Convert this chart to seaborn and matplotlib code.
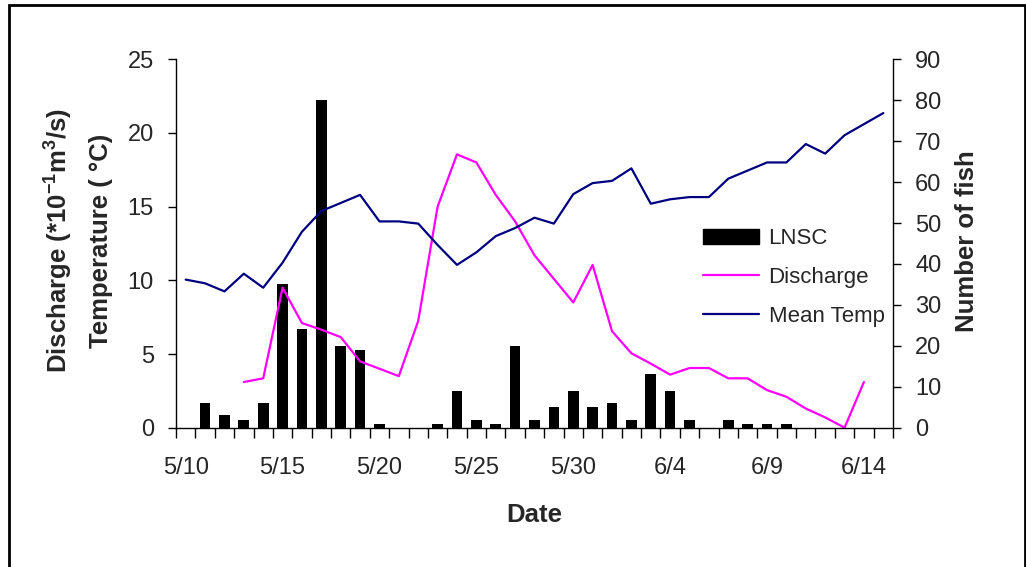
import numpy as np
import pandas as pd
import matplotlib
matplotlib.use("Agg")
import matplotlib.pyplot as plt
import seaborn as sns
from matplotlib.patches import Patch, Rectangle
from matplotlib.lines import Line2D
from matplotlib.ticker import FixedLocator, NullFormatter

# Daily dates, 5/10 through 6/15
dates = ["5/10", "5/11", "5/12", "5/13", "5/14", "5/15", "5/16", "5/17", "5/18",
         "5/19", "5/20", "5/21", "5/22", "5/23", "5/24", "5/25", "5/26", "5/27",
         "5/28", "5/29", "5/30", "5/31", "6/1", "6/2", "6/3", "6/4", "6/5", "6/6",
         "6/7", "6/8", "6/9", "6/10", "6/11", "6/12", "6/13", "6/14", "6/15"]

# LNSC catch per day (number of fish)
lnsc = [0, 6, 3, 2, 6, 35, 24, 80, 20, 19, 1, 0, 0, 1, 9, 2, 1, 20,
        2, 5, 9, 5, 6, 2, 13, 9, 2, 0, 2, 1, 1, 1, 0, 0, 0, 0, 0]

# Discharge (*10^-1 m3/s); no readings on the first three and the last day
discharge = [np.nan, np.nan, np.nan, 3.1, 3.35, 9.5, 7.1, 6.65, 6.15, 4.5,
             4.0, 3.5, 7.25, 15.0, 18.55, 18.0, 15.8, 14.0, 11.7, 10.1,
             8.5, 11.05, 6.55, 5.05, 4.35, 3.6, 4.05, 4.05, 3.35, 3.35,
             2.55, 2.1, 1.3, 0.7, 0.0, 3.1, np.nan]

# Mean water temperature (deg C)
mean_temp = [10.05, 9.8, 9.25, 10.45, 9.5, 11.2, 13.3, 14.7, 15.25, 15.8,
             14.0, 14.0, 13.85, 12.4, 11.05, 11.9, 13.0, 13.55, 14.25, 13.85,
             15.85, 16.6, 16.75, 17.6, 15.2, 15.5, 15.65, 15.65, 16.9, 17.45,
             18.0, 18.0, 19.25, 18.6, 19.85, 20.6, 21.35]

label_dates = ["5/10", "5/15", "5/20", "5/25", "5/30", "6/4", "6/9", "6/14"]

df = pd.DataFrame({"date": dates, "day": np.arange(len(dates)),
                   "lnsc": lnsc, "discharge": discharge, "temp": mean_temp})

sns.set_theme(style="white")
plt.rcParams["font.family"] = ["Liberation Sans", "DejaVu Sans"]
plt.rcParams["mathtext.fontset"] = "custom"
plt.rcParams["mathtext.rm"] = "Liberation Sans:bold"
plt.rcParams["mathtext.bf"] = "Liberation Sans:bold"
plt.rcParams["mathtext.it"] = "Liberation Sans:bold"

TICK_FS = 17
LABEL_FS = 18.5
LEG_FS = 16

fig = plt.figure(figsize=(10.26, 5.67), dpi=100)
W, H = 1026, 567
ax = fig.add_axes([176 / W, 1 - 427.7 / H, (893 - 176) / W, (427.7 - 59.3) / H])
ax2 = ax.twinx()

# Fish counts as bars on the right-hand axis
sns.barplot(data=df, x="day", y="lnsc", color="black", width=0.55,
            saturation=1, ax=ax2, edgecolor="none")
ax2.set_ylim(0, 90)
ax2.set_yticks(np.arange(0, 91, 10))

# Discharge and temperature on the left-hand axis
dq = df.dropna(subset=["discharge"])
sns.lineplot(data=dq, x="day", y="discharge", color="#FF00FF", lw=1.6, ax=ax)
sns.lineplot(data=df, x="day", y="temp", color="#000080", lw=1.6, ax=ax)
ax.set_ylim(0, 25)
ax.set_yticks(np.arange(0, 26, 5))

n = len(dates)
for a in (ax, ax2):
    a.set_xlim(-0.5, n - 0.5)
    a.set_xlabel("")
    a.set_ylabel("")
    a.grid(False)
    for s in a.spines.values():
        s.set_visible(False)

ax.set_zorder(ax2.get_zorder() + 1)
ax.patch.set_visible(False)

# Category ticks between days, labels every fifth day
lab_pos = [dates.index(d) for d in label_dates]
ax.set_xticks(lab_pos)
ax.set_xticklabels(label_dates)
ax.xaxis.set_minor_locator(FixedLocator(np.arange(-0.5, n, 1.0)))
ax.xaxis.set_minor_formatter(NullFormatter())
ax.tick_params(axis="x", which="major", length=0, pad=21, labelsize=TICK_FS)
ax.tick_params(axis="x", which="minor", length=7, width=1, color="black",
               direction="out", bottom=True)
ax.tick_params(axis="y", which="major", length=6, width=1, color="black",
               direction="out", left=True, pad=10, labelsize=TICK_FS)
ax2.tick_params(axis="x", which="both", bottom=False, labelbottom=False)
ax2.tick_params(axis="y", which="major", length=6, width=1, color="black",
                direction="out", right=True, pad=10, labelsize=TICK_FS)

ax.spines["left"].set_visible(True)
ax.spines["bottom"].set_visible(True)
ax2.spines["right"].set_visible(True)
for s in (ax.spines["left"], ax.spines["bottom"], ax2.spines["right"]):
    s.set_color("black")
    s.set_linewidth(1)

# Axis titles
fig.text(59 / W, 1 - 241 / H, "Discharge (*10$^{-1}$m$^{3}$/s)", rotation=90,
         ha="center", va="center", fontsize=LABEL_FS, fontweight="bold")
fig.text(101 / W, 1 - 241 / H, "Temperature ( °C)", rotation=90,
         ha="center", va="center", fontsize=LABEL_FS, fontweight="bold")
fig.text(967 / W, 1 - 241 / H, "Number of fish", rotation=90,
         ha="center", va="center", fontsize=LABEL_FS, fontweight="bold")
fig.text(534.5 / W, 1 - 515 / H, "Date", ha="center", va="center",
         fontsize=LABEL_FS, fontweight="bold")

handles = [Patch(facecolor="black", edgecolor="black"),
           Line2D([], [], color="#FF00FF", lw=1.6),
           Line2D([], [], color="#000080", lw=1.6)]
leg = ax.legend(handles, ["LNSC", "Discharge", "Mean Temp"],
                loc="upper left", bbox_to_anchor=(703 / W, 1 - 228 / H),
                bbox_transform=fig.transFigure, frameon=False, fontsize=LEG_FS,
                handlelength=2.5, handleheight=0.65, handletextpad=0.45,
                labelspacing=0.8, borderaxespad=0, borderpad=0)

# Outer frame of the figure
fig.patches.append(Rectangle((9 / W, -0.05), (1024.5 - 9) / W, 1.05 - 5 / H,
                             transform=fig.transFigure, fill=False,
                             edgecolor="black", lw=2, clip_on=False))

fig.savefig("out.png", dpi=100, facecolor="white")
